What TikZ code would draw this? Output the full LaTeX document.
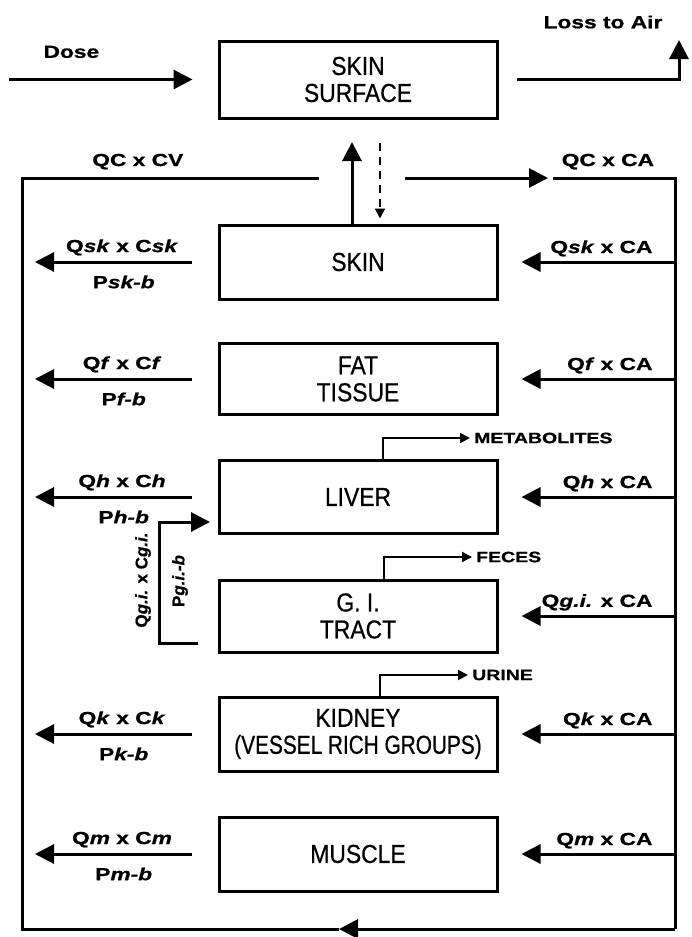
\documentclass[tikz,border=0pt]{standalone}
\usepackage{fontspec}
\setmainfont{Liberation Sans}
\newfontfamily\organfont[FakeStretch=0.88, FakeBold=0.6]{Liberation Sans}
\newfontfamily\organnarrow[FakeStretch=0.8, FakeBold=0.6]{Liberation Sans}
\newfontfamily\flowfont[FakeStretch=1.3, FakeBold=0.8]{Liberation Sans}
\newfontfamily\gutfont[FakeBold=0.8]{Liberation Sans}
\usetikzlibrary{positioning,arrows.meta}

\begin{document}
\begin{tikzpicture}[x=1pt, y=-1pt,
        organ/.style={draw, line width=3pt, minimum width=278pt, align=center, inner sep=0pt,
                      font=\organfont\fontsize{26}{27}\selectfont},
        line/.style={line width=3pt},
        flow/.style={line width=3pt, -{Triangle[length=19pt,width=19pt]}},
        thinflow/.style={line width=2pt, -{Triangle[length=10pt,width=10pt]}},
        dashflow/.style={line width=2pt, dash pattern=on 8pt off 6pt, -{Triangle[length=10pt,width=10pt]}},
        flowlbl/.style={inner sep=2pt, font=\flowfont\bfseries\fontsize{17.5}{19}\selectfont},
        gutlbl/.style={inner sep=2pt, rotate=90, font=\gutfont\bfseries\fontsize{17}{19}\selectfont},
        exitlbl/.style={inner sep=2pt, font=\flowfont\bfseries\fontsize{15}{17}\selectfont}]
    \useasboundingbox (0,0) rectangle (691,937);

    % compartments
    \node (surface) [organ, minimum height=77pt] at (358,79.5) {SKIN\\SURFACE};
    \node (skin) [organ, minimum height=74pt] at (358,262) {SKIN};
    \node (fat) [organ, minimum height=71pt] at (358,379) {FAT\\TISSUE};
    \node (liver) [organ, minimum height=73pt] at (358,497) {LIVER};
    \node (gi) [organ, minimum height=72pt] at (358,616) {G. I.\\TRACT};
    \node (kidney) [organ, minimum height=74pt] at (358,734) {KIDNEY\\{\organnarrow(VESSEL RICH GROUPS)}};
    \node (muscle) [organ, minimum height=74pt] at (358,854) {MUSCLE};

    % blood loop
    \coordinate (venTL) at (22,178);
    \coordinate (venBL) at (22,929);
    \coordinate (artTR) at (675,178);
    \coordinate (artBR) at (675,929);
    \coordinate (venEnd) at (319,178);
    \coordinate (artStart) at (405,178);
    \coordinate (artTip) at (548,178);
    \coordinate (artLine) at (553,178);
    \coordinate (retTip) at (339,929);
    \coordinate (upTip) at (352,142);
    \coordinate (downTop) at (380,143);

    \draw[line] (venEnd) -- node[flowlbl, pos=0.61, above=5pt] {QC x CV} (venTL) -- (venBL) -- (retTip);
    \draw[flow] (artBR) -- (retTip);
    \draw[flow] (artStart) -- (artTip);
    \draw[line] (artLine) -- node[flowlbl, pos=0.45, above=5pt] {QC x CA} (artTR) -- (artBR);
    \draw[flow] (upTip |- skin.north) -- (upTip);
    \draw[dashflow, shorten >=5pt] (downTop) -- (downTop |- skin.north);

    % dose and loss to air
    \coordinate (doseIn) at (9,79.5);
    \coordinate (air) at (679,40);
    \draw[flow] (doseIn) -- node[flowlbl, pos=0.34, above=18pt] {Dose} ([xshift=-25pt]surface.west);
    \draw[flow] ([xshift=18pt]surface.east) -| (air);
    \node (losslbl) [flowlbl] at (603,22) {Loss to Air};

    % venous outflow
    \foreach \o/\s in {skin/sk, fat/f, liver/h, kidney/k, muscle/m}
        \draw[flow, shorten >=13pt] ([xshift=-26pt]\o.west) --
            node[flowlbl, pos=0.41, above=3pt] {Q\textit{\s} x C\textit{\s}}
            node[flowlbl, pos=0.40, below=10pt] {P\textit{\s-b}} (\o.west -| venTL);

    % arterial inflow
    \foreach \o/\s in {skin/sk, fat/f, liver/h, gi/g.i., kidney/k, muscle/m}
        \draw[flow, shorten >=23pt] (\o.east -| artTR) --
            node[flowlbl, pos=0, above left=2pt and 19pt] {Q\textit{\s} x CA} (\o.east);

    % gut to liver
    \coordinate (giOut) at (198,643);
    \coordinate (giBend) at (159,522);
    \coordinate (giIn) at (210,522);
    \draw[flow] (giOut) -| (giBend) -- (giIn);
    \node (qgi) [gutlbl] at (143,580) {Q\textit{g.i.} x C\textit{g.i.}};
    \node (pgi) [gutlbl] at (180,581) {P\textit{g.i.-b}};

    % elimination
    \coordinate (metab) at (470,438);
    \coordinate (feces) at (472,557);
    \coordinate (urine) at (468,675);
    \draw[thinflow] ([xshift=25pt]liver.north) |- (metab);
    \draw[thinflow] ([xshift=26pt]gi.north) |- (feces);
    \draw[thinflow] ([xshift=22pt]kidney.north) |- (urine);
    \node (metablbl) [exitlbl, right=2pt of metab] {METABOLITES};
    \node (feceslbl) [exitlbl, right=2pt of feces] {FECES};
    \node (urinelbl) [exitlbl, right=2pt of urine] {URINE};
\end{tikzpicture}
\end{document}
